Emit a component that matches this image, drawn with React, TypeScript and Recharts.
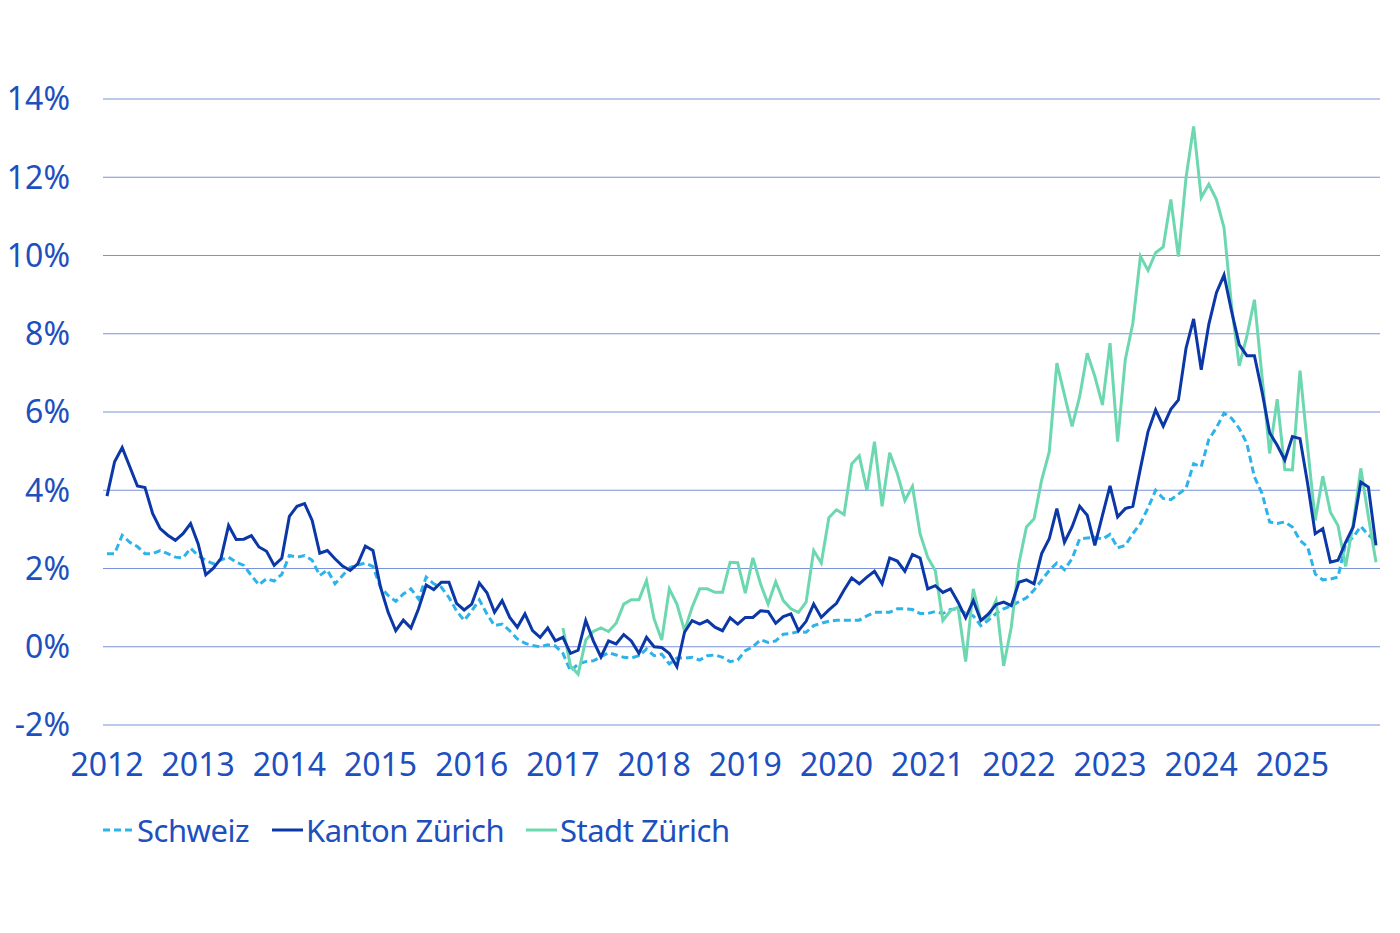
import { LineChart, Line, XAxis, YAxis, CartesianGrid } from "recharts";

// month index 0 = Jan 2012, 167 = Dec 2025
const years = [2012, 2013, 2014, 2015, 2016, 2017, 2018, 2019, 2020, 2021, 2022, 2023, 2024, 2025];
const yTicks = [-2, 0, 2, 4, 6, 8, 10, 12, 14];

const schweiz = [
  2.38, 2.38, 2.85, 2.67, 2.56, 2.38, 2.38, 2.46, 2.38, 2.29, 2.27, 2.52,
  2.33, 2.21, 2.12, 2.22, 2.29, 2.16, 2.08, 1.82, 1.58, 1.74, 1.68, 1.85,
  2.33, 2.29, 2.33, 2.21, 1.82, 1.96, 1.61, 1.82, 2.03, 2.09, 2.14, 2.05,
  1.52, 1.31, 1.16, 1.35, 1.48, 1.22, 1.78, 1.61, 1.52, 1.26, 0.92, 0.67,
  0.92, 1.2, 0.84, 0.54, 0.58, 0.41, 0.2, 0.09, 0.03, 0.0, 0.05, 0.02,
  -0.17, -0.62, -0.44, -0.38, -0.36, -0.26, -0.15, -0.21, -0.27, -0.29, -0.23, -0.06,
  -0.23, -0.19, -0.44, -0.29, -0.29, -0.27, -0.34, -0.23, -0.21, -0.27, -0.38, -0.34,
  -0.1, 0.0, 0.18, 0.11, 0.15, 0.32, 0.34, 0.39, 0.37, 0.54, 0.6, 0.65,
  0.68, 0.68, 0.68, 0.68, 0.79, 0.88, 0.88, 0.88, 0.97, 0.97, 0.95, 0.85,
  0.85, 0.9, 0.85, 0.95, 0.97, 0.85, 0.79, 0.54, 0.68, 0.85, 0.97, 1.05,
  1.15, 1.25, 1.45, 1.7, 1.95, 2.14, 1.97, 2.25, 2.76, 2.78, 2.8, 2.75,
  2.87, 2.53, 2.59, 2.89, 3.15, 3.55, 4.0, 3.79, 3.76, 3.9, 4.05, 4.68,
  4.6, 5.3, 5.6, 5.97, 5.84, 5.58, 5.2, 4.34, 3.92, 3.19, 3.15, 3.19,
  3.06, 2.72, 2.55, 1.86, 1.71, 1.73, 1.78, 2.63, 2.8, 3.08, 2.85, 2.72,
];

const kanton = [
  3.85, 4.73, 5.09, 4.6, 4.11, 4.07, 3.41, 3.02, 2.85, 2.72, 2.89, 3.15,
  2.63, 1.84, 2.01, 2.26, 3.1, 2.74, 2.75, 2.84, 2.55, 2.44, 2.08, 2.26,
  3.33, 3.59, 3.66, 3.23, 2.39, 2.46, 2.25, 2.06, 1.95, 2.12, 2.57, 2.46,
  1.52, 0.88, 0.41, 0.68, 0.48, 0.97, 1.58, 1.46, 1.65, 1.65, 1.11, 0.94,
  1.09, 1.63, 1.38, 0.88, 1.18, 0.75, 0.5, 0.84, 0.41, 0.24, 0.48, 0.15,
  0.24, -0.17, -0.09, 0.67, 0.15, -0.26, 0.15, 0.07, 0.31, 0.15, -0.17, 0.24,
  0.0, -0.02, -0.17, -0.51, 0.37, 0.67, 0.58, 0.67, 0.5, 0.41, 0.74, 0.58,
  0.75, 0.75, 0.92, 0.9, 0.6, 0.77, 0.84, 0.41, 0.65, 1.09, 0.75, 0.94,
  1.11, 1.45, 1.76, 1.61, 1.78, 1.93, 1.61, 2.27, 2.19, 1.93, 2.36, 2.27,
  1.48, 1.56, 1.39, 1.48, 1.14, 0.74, 1.18, 0.67, 0.84, 1.08, 1.14, 1.05,
  1.65, 1.71, 1.61, 2.38, 2.76, 3.53, 2.67, 3.06, 3.59, 3.36, 2.59, 3.36,
  4.11, 3.32, 3.53, 3.59, 4.56, 5.5, 6.05, 5.64, 6.07, 6.31, 7.63, 8.38,
  7.08, 8.24, 9.05, 9.5, 8.57, 7.72, 7.44, 7.44, 6.52, 5.47, 5.15, 4.77,
  5.37, 5.32, 4.17, 2.89, 3.02, 2.16, 2.21, 2.67, 3.06, 4.21, 4.08, 2.59,
];

// Stadt Zürich starts Jan 2017
const stadtStart = 60;
const stadt = [
  0.48, -0.49, -0.7, 0.17, 0.39, 0.48, 0.39, 0.6, 1.09, 1.2, 1.2, 1.69,
  0.71, 0.17, 1.48, 1.09, 0.41, 1.01, 1.48, 1.48, 1.39, 1.39, 2.16, 2.15,
  1.37, 2.27, 1.61, 1.09, 1.66, 1.18, 0.97, 0.88, 1.14, 2.46, 2.14, 3.3,
  3.5, 3.38, 4.67, 4.88, 4.0, 5.24, 3.59, 4.96, 4.43, 3.74, 4.1, 2.89,
  2.29, 1.95, 0.67, 0.92, 1.01, -0.38, 1.48, 0.67, 0.75, 1.18, -0.49, 0.5,
  2.12, 3.06, 3.27, 4.26, 4.98, 7.25, 6.44, 5.63, 6.39, 7.5, 6.91, 6.18,
  7.76, 5.24, 7.33, 8.27, 9.98, 9.62, 10.07, 10.22, 11.43, 9.97, 11.99, 13.3,
  11.48, 11.82, 11.43, 10.71, 8.7, 7.18, 7.93, 8.87, 6.91, 4.94, 6.33, 4.53,
  4.52, 7.06, 5.1, 3.23, 4.36, 3.44, 3.1, 2.05, 3.15, 4.56, 3.32, 2.16,
];

const TEXT = "#1d4fbf";
const C_SCHWEIZ = "#2db3ea";
const C_KANTON = "#0b38a6";
const C_STADT = "#6dd8b0";
const FONT = "'Noto Sans', sans-serif";

const data = kanton.map((k, i) => ({
  i,
  schweiz: schweiz[i],
  kanton: k,
  stadt: i >= stadtStart ? stadt[i - stadtStart] : null,
}));

const legendItems = [
  { name: "Schweiz", color: C_SCHWEIZ, dash: "7 4", left: 103 },
  { name: "Kanton Zürich", color: C_KANTON, dash: undefined, left: 272 },
  { name: "Stadt Zürich", color: C_STADT, dash: undefined, left: 526 },
];

export default function App() {
  return (
    <div style={{ position: "absolute", left: 0, top: 0, width: 1400, height: 933, background: "#fff", fontFamily: FONT }}>
      <LineChart
        width={1400}
        height={933}
        data={data}
        margin={{ top: 99, right: 20, left: 0, bottom: 178 }}
      >
        <CartesianGrid vertical={false} stroke="#7a92da" strokeWidth={1.2} />
        <XAxis
          dataKey="i"
          type="number"
          domain={[0, 167]}
          ticks={years.map((_, k) => k * 12)}
          tickFormatter={(v) => String(years[v / 12])}
          interval={0}
          padding={{ left: 4, right: 4 }}
          axisLine={false}
          tickLine={false}
          tickMargin={22}
          height={30}
          tick={{ fill: TEXT, fontSize: 32, fontFamily: FONT }}
        />
        <YAxis
          domain={[-2, 14]}
          ticks={yTicks}
          tickFormatter={(v) => `${v}%`}
          interval={0}
          axisLine={false}
          tickLine={false}
          tickMargin={27}
          width={103}
          tick={{ fill: TEXT, fontSize: 32, fontFamily: FONT }}
        />
        <Line
          dataKey="schweiz"
          stroke={C_SCHWEIZ}
          strokeWidth={3}
          strokeDasharray="7 4"
          dot={false}
          type="linear"
          isAnimationActive={false}
        />
        <Line
          dataKey="stadt"
          stroke={C_STADT}
          strokeWidth={3}
          dot={false}
          type="linear"
          connectNulls={false}
          isAnimationActive={false}
        />
        <Line
          dataKey="kanton"
          stroke={C_KANTON}
          strokeWidth={3}
          dot={false}
          type="linear"
          isAnimationActive={false}
        />
      </LineChart>
      {legendItems.map((it) => (
        <div
          key={it.name}
          style={{
            position: "absolute",
            left: it.left,
            top: 810,
            display: "flex",
            alignItems: "center",
            lineHeight: "40px",
            fontSize: 31,
            letterSpacing: -0.5,
            color: TEXT,
            whiteSpace: "nowrap",
          }}
        >
          <svg width={31} height={6} style={{ marginRight: 3 }}>
            <line x1={0} y1={3} x2={31} y2={3} stroke={it.color} strokeWidth={3} strokeDasharray={it.dash} />
          </svg>
          <span>{it.name}</span>
        </div>
      ))}
    </div>
  );
}
